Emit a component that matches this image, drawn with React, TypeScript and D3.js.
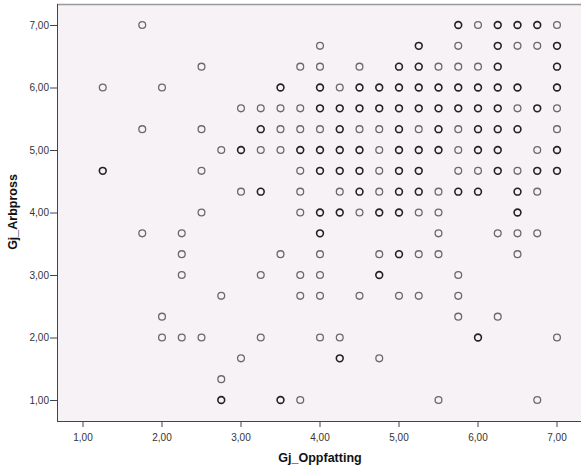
import React from 'react';
import * as d3 from 'd3';

// each row: [y value, x values, light(1)/dark(2) per point]
const yRows: number[] = [7, 20 / 3, 19 / 3, 6, 17 / 3, 16 / 3, 5, 14 / 3, 13 / 3, 4, 11 / 3, 10 / 3, 3, 8 / 3, 7 / 3, 2, 5 / 3, 4 / 3, 1];
const xRows: number[][] = [
  [1.75, 5.75, 6, 6.25, 6.5, 6.75, 7],
  [4, 5.25, 5.75, 6.25, 6.5, 6.75, 7],
  [2.5, 3.75, 4, 4.5, 5, 5.25, 5.5, 5.75, 6, 6.25, 7],
  [1.25, 2, 3.5, 4, 4.25, 4.5, 4.75, 5, 5.25, 5.5, 5.75, 6, 6.25, 6.5, 7],
  [3, 3.25, 3.5, 3.75, 4, 4.25, 4.5, 4.75, 5, 5.25, 5.5, 5.75, 6, 6.25, 6.5, 6.75, 7],
  [1.75, 2.5, 3.25, 3.5, 3.75, 4, 4.25, 4.5, 4.75, 5, 5.25, 5.5, 5.75, 6, 6.25, 6.5, 7],
  [2.75, 3, 3.25, 3.5, 3.75, 4, 4.25, 4.5, 4.75, 5, 5.25, 5.5, 5.75, 6, 6.25, 6.75, 7],
  [1.25, 2.5, 3.75, 4, 4.25, 4.5, 4.75, 5, 5.25, 5.75, 6, 6.25, 6.5, 6.75, 7],
  [3, 3.25, 3.75, 4.25, 4.5, 4.75, 5, 5.25, 5.5, 5.75, 6, 6.5, 6.75],
  [2.5, 3.75, 4, 4.25, 4.5, 4.75, 5, 5.25, 5.5, 6.5],
  [1.75, 2.25, 4, 5.5, 6.25, 6.5, 6.75],
  [2.25, 3.5, 4, 4.75, 5, 5.25, 5.5, 6.5],
  [2.25, 3.25, 3.75, 4, 4.75, 5.75],
  [2.75, 3.75, 4, 4.5, 5, 5.25, 5.75],
  [2, 5.75, 6.25],
  [2, 2.25, 2.5, 3.25, 4, 4.25, 6, 7],
  [3, 4.25, 4.75],
  [2.75],
  [2.75, 3.5, 3.75, 5.5, 6.75],
];
const nRows: number[][] = [
  [1, 2, 1, 2, 2, 2, 1],
  [1, 2, 1, 2, 1, 1, 2],
  [1, 1, 1, 1, 2, 2, 1, 1, 1, 2, 2],
  [1, 1, 2, 2, 1, 2, 2, 2, 2, 2, 2, 2, 2, 2, 2],
  [1, 1, 1, 1, 2, 2, 2, 2, 2, 2, 2, 2, 2, 2, 1, 2, 1],
  [1, 1, 2, 1, 1, 1, 2, 1, 1, 2, 1, 2, 1, 2, 2, 2, 1],
  [1, 2, 1, 1, 2, 2, 2, 2, 1, 2, 2, 2, 1, 2, 2, 1, 2],
  [2, 1, 1, 2, 2, 2, 1, 2, 2, 1, 1, 2, 1, 2, 2],
  [1, 2, 1, 1, 2, 1, 2, 2, 1, 2, 2, 2, 1],
  [1, 1, 2, 2, 1, 2, 2, 1, 1, 2],
  [1, 1, 2, 1, 1, 1, 1],
  [1, 1, 1, 1, 2, 1, 1, 1],
  [1, 1, 1, 1, 2, 1],
  [1, 1, 1, 1, 1, 1, 1],
  [1, 1, 1],
  [1, 1, 1, 1, 1, 1, 2, 1],
  [1, 2, 1],
  [1],
  [2, 2, 1, 1, 1],
];
const tickValues: number[] = [1, 2, 3, 4, 5, 6, 7];
const xTitle = 'Gj_Oppfatting';
const yTitle = 'Gj_Arbpross';

const fmt = (v: number) => v.toFixed(2).replace('.', ',');

export default function App() {
  const W = 581, H = 473;
  const left = 57, top = 4, right = 581, bottom = 421;
  const x = d3.scaleLinear().domain([1, 7]).range([83, 557]);
  const y = d3.scaleLinear().domain([1, 7]).range([400, 25]);

  const pts: { x: number; y: number; n: number }[] = [];
  yRows.forEach((yv, i) => {
    xRows[i].forEach((xv, j) => pts.push({ x: xv, y: yv, n: nRows[i][j] }));
  });

  const font = '"Liberation Sans", Arial, sans-serif';
  return (
    <svg width={W} height={H} style={{ position: 'absolute', left: 0, top: 0, background: '#fff' }}>
      <rect x={left} y={top} width={right - left} height={bottom - top} fill="#f6f2f6" />
      <line x1={left} x2={right} y1={top + 0.5} y2={top + 0.5} stroke="#999" strokeWidth={1.5} />
      {pts.map((p, i) => (
        <circle
          key={i}
          cx={x(p.x)}
          cy={y(p.y)}
          r={3.4}
          fill="none"
          stroke={p.n > 1 ? '#222' : '#6a6a6a'}
          strokeWidth={p.n > 1 ? 1.6 : 1.3}
        />
      ))}
      <line x1={left + 0.5} x2={left + 0.5} y1={top} y2={bottom} stroke="#444" strokeWidth={1} />
      <line x1={left} x2={right} y1={bottom + 0.5} y2={bottom + 0.5} stroke="#444" strokeWidth={1} />
      {tickValues.map((t) => (
        <g key={'x' + t}>
          <line x1={x(t)} x2={x(t)} y1={bottom} y2={bottom + 6} stroke="#444" />
          <text x={x(t)} y={bottom + 20} textAnchor="middle" fontFamily={font} fontSize={10} fill="#333">
            {fmt(t)}
          </text>
        </g>
      ))}
      {tickValues.map((t) => (
        <g key={'y' + t}>
          <line x1={left - 7} x2={left} y1={y(t) + 0.5} y2={y(t) + 0.5} stroke="#444" />
          <text x={left - 8} y={y(t) + 3.5} textAnchor="end" fontFamily={font} fontSize={10} fill="#333">
            {fmt(t)}
          </text>
        </g>
      ))}
      <text x={320} y={462} textAnchor="middle" fontFamily={font} fontSize={12.5} fontWeight="bold" fill="#111">
        {xTitle}
      </text>
      <text
        transform={`translate(17,212) rotate(-90)`}
        textAnchor="middle"
        fontFamily={font}
        fontSize={12.5}
        fontWeight="bold"
        fill="#111"
      >
        {yTitle}
      </text>
    </svg>
  );
}
